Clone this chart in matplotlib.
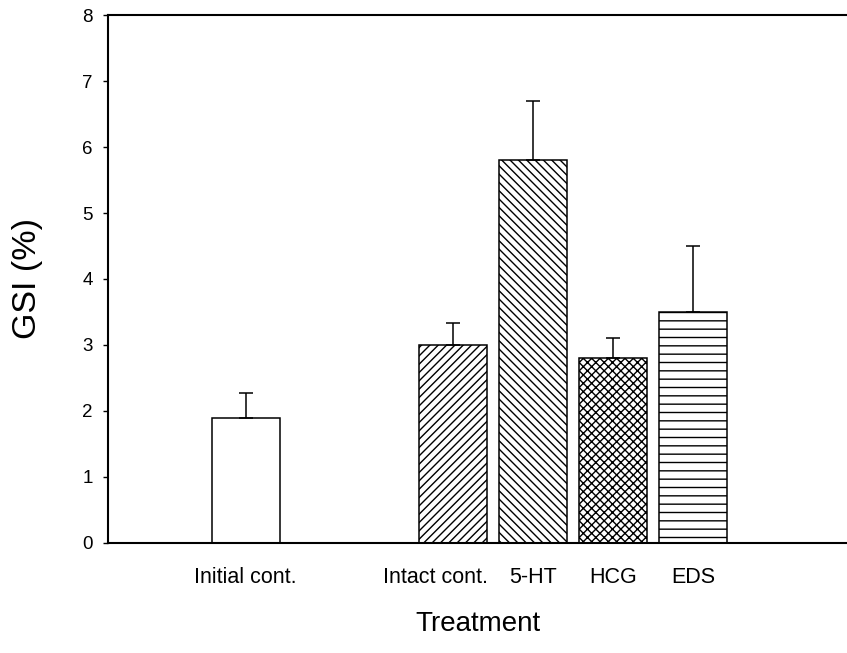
import matplotlib
matplotlib.use("Agg")
import matplotlib.pyplot as plt

plt.rcParams['font.family'] = ['Liberation Sans', 'DejaVu Sans']
plt.rcParams['hatch.linewidth'] = 1.0

# Gonadosomatic index by treatment group
categories = ["Initial cont.", "Intact cont.", "5-HT", "HCG", "EDS"]
gsi_mean = [1.9, 3.0, 5.8, 2.8, 3.5]
gsi_err = [0.37, 0.33, 0.9, 0.3, 1.0]
hatches = ["", "////", "\\\\\\\\", "xxxx", "--"]

# Layout: bar centres and label anchors along x
bar_pos = [0.0, 2.594, 3.594, 4.594, 5.594]
label_pos = [0.0, 2.37, 3.594, 4.594, 5.594]

fig = plt.figure(figsize=(8.47, 6.53), dpi=100)
ax = fig.add_axes([0.1275, 0.1685, 0.8725, 0.8085])

for x, m, e, h in zip(bar_pos, gsi_mean, gsi_err, hatches):
    ax.bar(x, m, width=0.85, facecolor="white", edgecolor="black",
           linewidth=1.1, hatch=h, zorder=2)
    ax.errorbar(x, m, yerr=[[0], [e]], fmt="none", ecolor="black",
                elinewidth=1.1, capsize=5, capthick=1.1, zorder=3)

ax.set_xlim(-1.72, 7.52)
ax.set_ylim(0, 8)
ax.set_yticks(range(0, 9))
ax.tick_params(axis="y", direction="out", length=3.5, width=1,
               labelsize=13.5, pad=7.5)
ax.set_xticks(label_pos)
ax.set_xticklabels(categories, fontsize=15.5)
ax.tick_params(axis="x", length=0, pad=17)

for side in ("left", "top", "bottom"):
    ax.spines[side].set_linewidth(1.5)
ax.spines["right"].set_visible(False)

ax.set_ylabel("GSI (%)", fontsize=24.5, labelpad=28)
ax.set_xlabel("Treatment", fontsize=20, labelpad=17)

fig.savefig("out.png", dpi=100)
